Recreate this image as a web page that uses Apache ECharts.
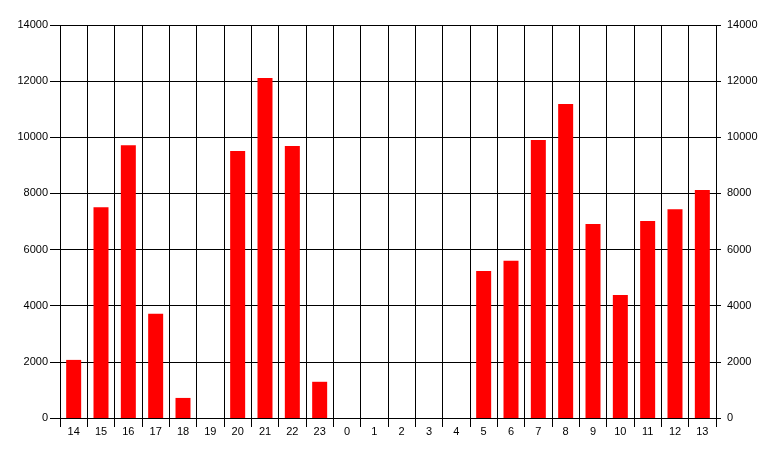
<!DOCTYPE html>
<html>
<head>
<meta charset="utf-8">
<script src="https://cdn.jsdelivr.net/npm/echarts@6/dist/echarts.min.js"></script>
<style>html,body{margin:0;padding:0;background:#fff}#c{width:777px;height:457px}</style>
</head>
<body>
<div id="c"></div>
<script>
var categories = ['14','15','16','17','18','19','20','21','22','23','0','1','2','3','4','5','6','7','8','9','10','11','12','13'];
var values = [2070, 7510, 9720, 3710, 715, 0, 9510, 12110, 9690, 1290, 0, 0, 0, 0, 0, 5240, 5600, 9900, 11190, 6910, 4380, 7020, 7440, 8120];
var yTicks = [0, 2000, 14000, 2000]; // min, interval, max (reference)

var chart = echarts.init(document.getElementById('c'), null, {renderer: 'canvas'});
var font = 'Liberation Sans, Arial, sans-serif';
var yAxisBase = function (pos, tickLen, margin) {
  return {
    type: 'value', position: pos, min: yTicks[0], max: yTicks[2], interval: yTicks[1],
    axisLine: {show: false},
    axisTick: {show: true, length: tickLen, lineStyle: {color: '#000', width: 1}},
    axisLabel: {color: '#000', fontSize: 11, fontFamily: font, margin: margin,
      formatter: function (v) { return String(v); }},
    splitLine: {show: pos === 'left', lineStyle: {color: '#000', width: 1}}
  };
};
chart.setOption({
  animation: false,
  backgroundColor: '#fff',
  grid: {left: 60, right: 61, top: 25, bottom: 39, containLabel: false},
  xAxis: {
    type: 'category', data: categories, boundaryGap: true, offset: 3,
    axisLine: {show: false},
    axisTick: {show: true, length: 9, alignWithLabel: false, lineStyle: {color: '#000', width: 1}},
    axisLabel: {color: '#000', fontSize: 11, fontFamily: font, margin: 5, interval: 0},
    splitLine: {show: true, interval: 0, lineStyle: {color: '#000', width: 1}}
  },
  yAxis: [yAxisBase('left', 10, 12), yAxisBase('right', 5, 11)],
  series: [{
    type: 'bar', data: values, yAxisIndex: 0, barWidth: 15,
    itemStyle: {color: '#ff0000'}
  }]
});
</script>
</body>
</html>
